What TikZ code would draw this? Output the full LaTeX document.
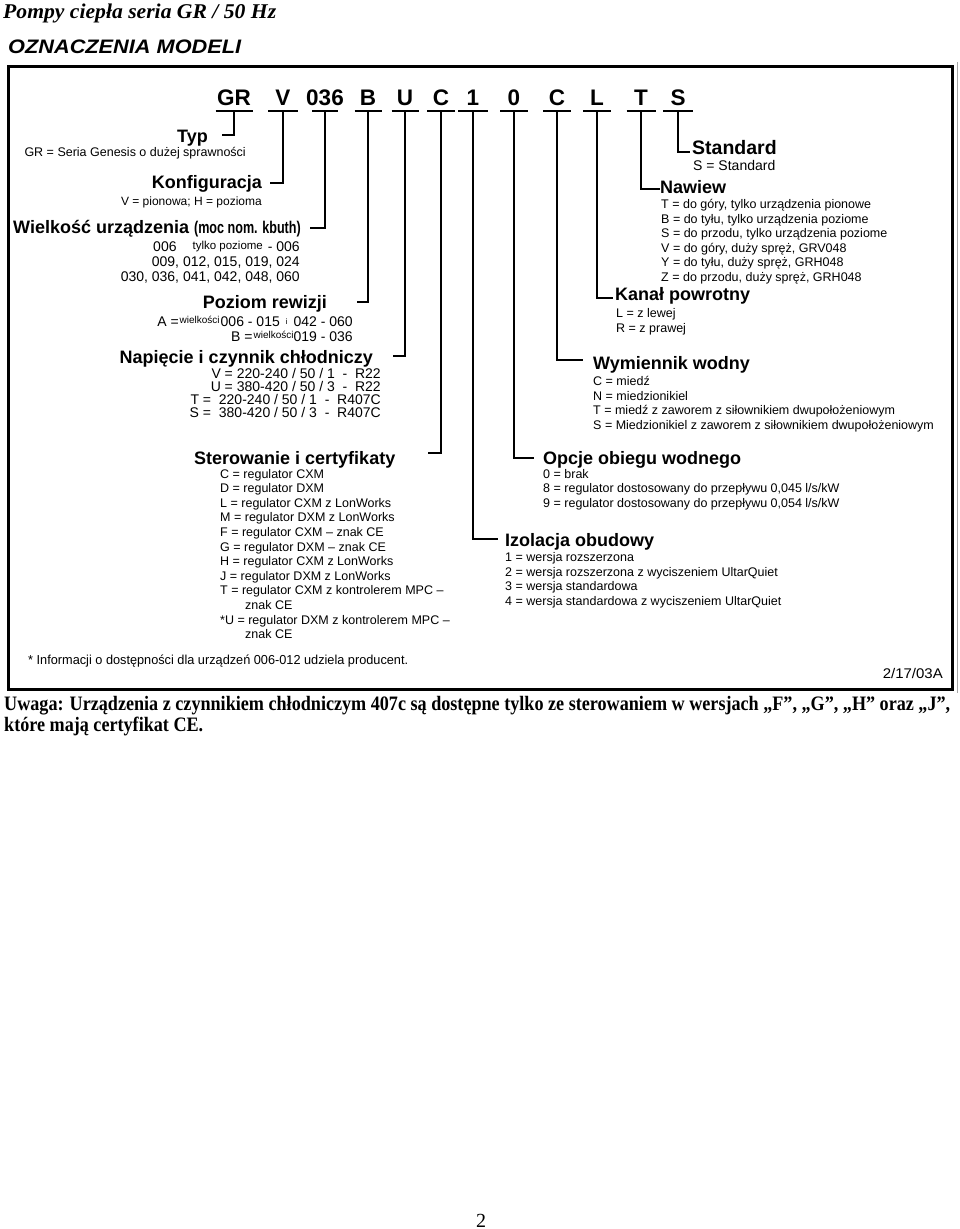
\documentclass[tikz,border=0pt]{standalone}
\usepackage{fontspec}
\setmainfont{Liberation Sans}
\newfontfamily\serifF{Liberation Serif}
\usepackage{graphicx}
\newsavebox\uwbox
\tikzset{
  conn/.style={line width=2pt},
  uline/.style={line width=2pt},
  code/.style={font=\fontsize{22.5}{26}\selectfont\bfseries, inner sep=0pt, anchor=base},
  head/.style={font=\fontsize{18}{21}\selectfont\bfseries, inner sep=0pt},
  small/.style={font=\fontsize{12.5}{14.6}\selectfont, inner sep=0pt},
  mid/.style={font=\fontsize{14}{16}\selectfont, inner sep=0pt},
}
\newcommand{\tinyw}[1]{\raisebox{3pt}{\fontsize{10}{12}\selectfont #1}}
\begin{document}
\sbox\uwbox{\serifF\bfseries\fontsize{20.5}{23}\selectfont Uwaga: Urządzenia z czynnikiem chłodniczym 407c są dostępne tylko ze sterowaniem w wersjach „F”, „G”, „H” oraz „J”,}%
\pgfmathsetmacro\uwf{946/\the\wd\uwbox}%
\begin{tikzpicture}[x=1pt,y=-1pt]
\useasboundingbox (0,0) rectangle (960,1229);
\fill[white] (0,0) rectangle (960,1229);

% titles
\node[anchor=base west, inner sep=0pt] (title) at (3,18) {\resizebox{273pt}{\height}{\serifF\bfseries\itshape\fontsize{21}{24}\selectfont Pompy ciepła seria GR / 50 Hz}};
\node[anchor=base west, inner sep=0pt] (subtitle) at (8,53) {\resizebox{233pt}{\height}{\bfseries\itshape\fontsize{19.5}{24}\selectfont OZNACZENIA MODELI}};

% frame
\draw[line width=3pt] (8,66) rectangle (952,689);
\draw[black!35, line width=1pt] (957,62) -- (957,693);

% code letters
\node[code] (cGR) at (234,105) {GR};
\node[code] (cV) at (283,105) {V};
\node[code] (c036) at (325,105) {036};
\node[code] (cB) at (368,105) {B};
\node[code] (cU) at (405,105) {U};
\node[code] (cC) at (441,105) {C};
\node[code] (c1) at (473,105) {1};
\node[code] (c0) at (514,105) {0};
\node[code] (cC2) at (557,105) {C};
\node[code] (cL) at (597,105) {L};
\node[code] (cT) at (641,105) {T};
\node[code] (cS) at (678,105) {S};
\foreach \n/\w in {cGR/18.5, cV/15, c036/13, cB/13.5, cU/13.5, cC/14, c1/15, c0/14, cC2/14, cL/14, cT/14.5, cS/15}
  \draw[uline] ([shift={(-\w pt,-6pt)}]\n.base) -- ([shift={(\w pt,-6pt)}]\n.base);

% left labels
\node[head, anchor=base east] (hTyp) at (208,142) {Typ};
\node[small, anchor=base east] (tTyp) at (246,156) {GR = Seria Genesis o dużej sprawności};
\node[head, anchor=base east] (hKonf) at (262,188) {Konfiguracja};
\node[small, anchor=base east, font=\fontsize{12}{14}\selectfont] (tKonf) at (262,205) {V = pionowa; H = pozioma};
\node[head, anchor=base east] (hWiel) at (301,233) {Wielkość urządzenia \scalebox{0.74}[1]{\fontsize{17}{20}\selectfont(moc nom. kbuth)}};
\node[mid, anchor=base east] (tWiel1) at (300,251) {006\hspace{16pt}\raisebox{2pt}{\fontsize{11.5}{13}\selectfont tylko poziome}\hspace{5pt}- 006};
\node[mid, anchor=base east] (tWiel2) at (300,266) {009, 012, 015, 019, 024};
\node[mid, anchor=base east] (tWiel3) at (300,281) {030, 036, 041, 042, 048, 060};
\node[head, anchor=base east] (hPoz) at (327,308) {Poziom rewizji};
\node[mid, anchor=base east] (tPozA) at (353,326) {A =\hspace{1pt}\tinyw{wielkości}\hspace{1pt}006 - 015\hspace{6pt}\raisebox{2pt}{\fontsize{8}{9}\selectfont i}\hspace{6pt}042 - 060};
\node[mid, anchor=base east] (tPozB) at (353,341) {B =\hspace{1pt}\tinyw{wielkości}019 - 036};
\node[head, anchor=base east] (hNap) at (373,363) {Napięcie i czynnik chłodniczy};
\node[mid, anchor=base east] (tNap1) at (381,378) {V = 220-240 / 50 / 1\ \ -\ \ R22};
\node[mid, anchor=base east] (tNap2) at (381,391) {U = 380-420 / 50 / 3\ \ -\ \ R22};
\node[mid, anchor=base east] (tNap3) at (381,404) {T =\ \ 220-240 / 50 / 1\ \ -\ \ R407C};
\node[mid, anchor=base east] (tNap4) at (381,417) {S =\ \ 380-420 / 50 / 3\ \ -\ \ R407C};
\node[head, anchor=base west] (hSter) at (194,464) {Sterowanie i certyfikaty};
\foreach \t [count=\i from 0] in {{C = regulator CXM}, {D = regulator DXM}, {L = regulator CXM z LonWorks}, {M = regulator DXM z LonWorks}, {F = regulator CXM – znak CE}, {G = regulator DXM – znak CE}, {H = regulator CXM z LonWorks}, {J = regulator DXM z LonWorks}, {T = regulator CXM z kontrolerem MPC –}, {\hspace{25pt}znak CE}, {*U = regulator DXM z kontrolerem MPC –}, {\hspace{25pt}znak CE}}
  \node[small, anchor=base west] (ster-\i) at (220,478+14.6*\i) {\t};

% right labels
\node[anchor=base west, inner sep=0pt, font=\fontsize{19.5}{22}\selectfont\bfseries] (hStd) at (692,154) {Standard};
\node[mid, anchor=base west] (tStd) at (693,170) {S = Standard};
\node[head, anchor=base west] (hNaw) at (660,193) {Nawiew};
\foreach \t [count=\i from 0] in {{T = do góry, tylko urządzenia pionowe}, {B = do tyłu, tylko urządzenia poziome}, {S = do przodu, tylko urządzenia poziome}, {V = do góry, duży spręż, GRV048}, {Y = do tyłu, duży spręż, GRH048}, {Z = do przodu, duży spręż, GRH048}}
  \node[small, anchor=base west] (naw-\i) at (661,208.5+14.6*\i) {\t};
\node[head, anchor=base west] (hKan) at (615,300) {Kanał powrotny};
\foreach \t [count=\i from 0] in {{L = z lewej}, {R = z prawej}}
  \node[small, anchor=base west] (kan-\i) at (616,317.5+14.6*\i) {\t};
\node[head, anchor=base west] (hWym) at (593,369) {Wymiennik wodny};
\foreach \t [count=\i from 0] in {{C = miedź}, {N = miedzionikiel}, {T = miedź z zaworem z siłownikiem dwupołożeniowym}, {S = Miedzionikiel z zaworem z siłownikiem dwupołożeniowym}}
  \node[small, anchor=base west] (wym-\i) at (593,385.5+14.6*\i) {\t};
\node[head, anchor=base west] (hOpc) at (543,464.5) {Opcje obiegu wodnego};
\foreach \t [count=\i from 0] in {{0 = brak}, {8 = regulator dostosowany do przepływu 0,045 l/s/kW}, {9 = regulator dostosowany do przepływu 0,054 l/s/kW}}
  \node[small, anchor=base west] (opc-\i) at (543,478+14.6*\i) {\t};
\node[head, anchor=base west] (hIzo) at (505,546.5) {Izolacja obudowy};
\foreach \t [count=\i from 0] in {{1 = wersja rozszerzona}, {2 = wersja rozszerzona z wyciszeniem UltarQuiet}, {3 = wersja standardowa}, {4 = wersja standardowa z wyciszeniem UltarQuiet}}
  \node[small, anchor=base west] (izo-\i) at (505,561.5+14.6*\i) {\t};

% connector ends
\coordinate (jTyp) at (222,135);
\coordinate (jKonf) at (270,183);
\coordinate (jWiel) at (310,228);
\coordinate (jPoz) at (357,302);
\coordinate (jNap) at (393,356);
\coordinate (jSter) at (428,453);
\coordinate (jIzo) at (498,539);
\coordinate (jOpc) at (534,458);
\coordinate (jWym) at (583,360);
\coordinate (jKan) at (613,298);
\coordinate (jNaw) at (660,189);
\coordinate (jStd) at (690,152);

\draw[conn] ([yshift=-6pt]cGR.base) |- (jTyp);
\draw[conn] ([yshift=-6pt]cV.base) |- (jKonf);
\draw[conn] ([yshift=-6pt]c036.base) |- (jWiel);
\draw[conn] ([yshift=-6pt]cB.base) |- (jPoz);
\draw[conn] ([yshift=-6pt]cU.base) |- (jNap);
\draw[conn] ([yshift=-6pt]cC.base) |- (jSter);
\draw[conn] ([yshift=-6pt]c1.base) |- (jIzo);
\draw[conn] ([yshift=-6pt]c0.base) |- (jOpc);
\draw[conn] ([yshift=-6pt]cC2.base) |- (jWym);
\draw[conn] ([yshift=-6pt]cL.base) |- (jKan);
\draw[conn] ([yshift=-6pt]cT.base) |- (jNaw);
\draw[conn] ([yshift=-6pt]cS.base) |- (jStd);

% footer
\node[anchor=base west, inner sep=0pt] (foot) at (28,664) {\resizebox{380pt}{\height}{\fontsize{13}{15}\selectfont * Informacji o dostępności dla urządzeń 006-012 udziela producent.}};
\node[anchor=base east, inner sep=0pt] (date) at (943,678) {\resizebox{60pt}{\height}{\fontsize{14}{16}\selectfont 2/17/03A}};
\node[anchor=base west, inner sep=0pt] (uwaga1) at (4,710) {\scalebox{\uwf}[1]{\usebox\uwbox}};
\node[anchor=base west, inner sep=0pt] (uwaga2) at (4,731) {\scalebox{\uwf}[1]{\serifF\bfseries\fontsize{20.5}{23}\selectfont które mają certyfikat CE.}};
\node[anchor=base, inner sep=0pt, font=\serifF\fontsize{20}{24}\selectfont] (page) at (481,1227) {2};
\end{tikzpicture}
\end{document}
